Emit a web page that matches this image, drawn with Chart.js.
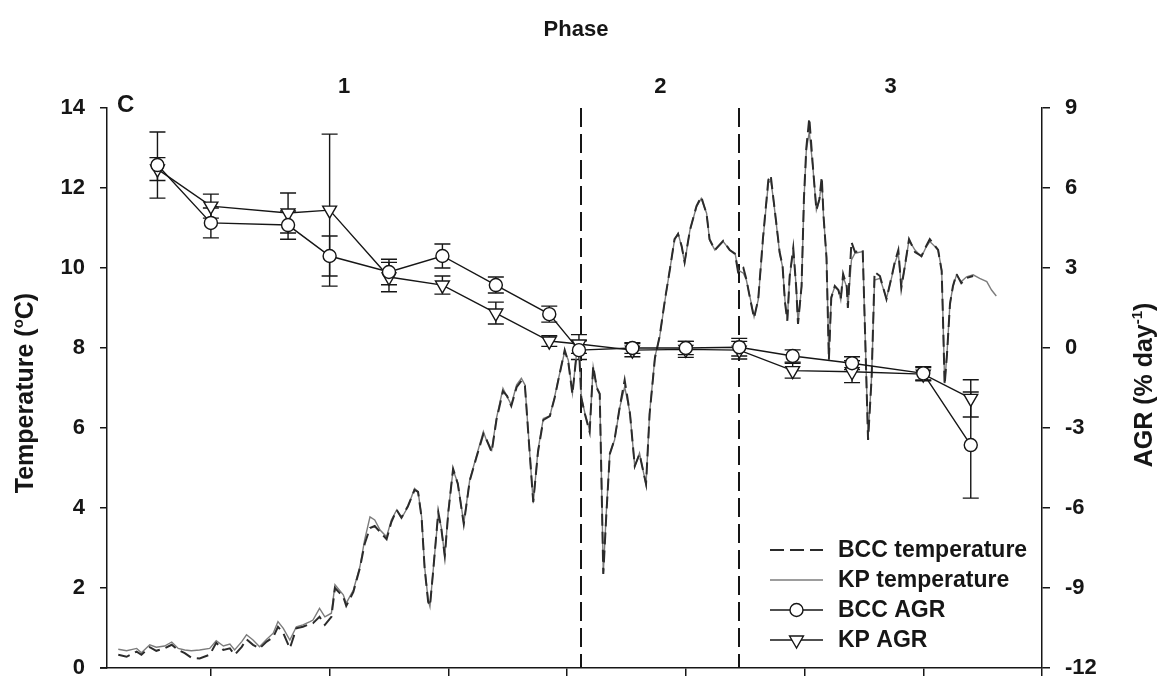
<!DOCTYPE html>
<html lang="en">
<head>
<meta charset="utf-8">
<title>Temperature and AGR by phase</title>
<script src="https://cdn.jsdelivr.net/npm/chart.js@4.4.1/dist/chart.umd.min.js"></script>
<style>
  html, body { margin: 0; padding: 0; background: #fff; }
  #wrap { position: relative; width: 1160px; height: 679px; }
</style>
</head>
<body>
<div id="wrap"><canvas id="agrChart"></canvas></div>
<script>
// Températures journalières (jour, °C) des deux sites
const tempDays = [
  4.4, 5.8, 7.5, 8.3, 9.7, 10.8, 12.2, 13.4, 14.5, 15.6,
  16.7, 18.1, 19.8, 20.9, 22.1, 23.2, 24.0, 25.2, 26.0, 27.1,
  28.2, 29.4, 30.5, 31.3, 32.2, 33.3, 34.4, 35.5, 36.7, 37.2,
  38.3, 39.2, 40.3, 40.9, 42.3, 42.8, 44.0, 45.1, 45.9, 46.8,
  47.6, 48.5, 49.6, 50.4, 51.3, 52.1, 53.2, 54.3, 54.9, 55.5,
  56.0, 56.6, 56.9, 57.4, 58.3, 58.8, 59.4, 60.0, 60.8, 61.6,
  62.6, 63.6, 64.7, 65.9, 66.4, 67.3, 68.1, 69.2, 69.9, 70.6,
  71.5, 72.3, 72.9, 73.4, 74.3, 75.1, 76.0, 77.1, 77.9, 78.5,
  79.6, 80.2, 80.9, 81.6, 82.0, 82.4, 83.0, 83.8, 84.4, 85.0,
  85.5, 85.8, 86.1, 86.6, 87.2, 88.0, 88.9, 89.7, 90.6, 91.4,
  92.2, 93.3, 93.9, 94.8, 95.6, 96.5, 97.3, 98.1, 98.7, 99.3,
  99.8, 100.7, 101.8, 102.6, 103.5, 104.0, 104.9, 106.3, 107.4, 108.3,
  108.8, 109.7, 110.2, 110.8, 111.5, 112.2, 113.0, 113.9, 114.3, 114.7,
  115.3, 115.8, 116.3, 116.7, 117.1, 117.5, 118.1, 118.6, 118.9, 119.5,
  119.9, 120.3, 120.8, 121.4, 122.0, 122.5, 122.9, 123.2, 123.7, 124.1,
  124.5, 125.1, 125.7, 126.1, 126.5, 127.1, 127.3, 127.9, 128.5, 129.8,
  130.2, 130.7, 131.3, 131.8, 132.7, 133.8, 134.7, 135.2, 135.8, 136.3,
  136.9, 137.6, 138.6, 139.7, 140.5, 141.1, 142.0, 142.5, 143.1, 143.3,
  143.6, 144.0, 144.5, 145.0, 145.6, 146.4, 147.3, 148.4, 149.5, 150.7,
  151.5, 152.3
];

const bccTemp = [
  0.33, 0.28, 0.41, 0.33, 0.52, 0.43, 0.49, 0.58, 0.45, 0.37,
  0.26, 0.24, 0.33, 0.63, 0.45, 0.49, 0.33, 0.53, 0.72, 0.58,
  0.49, 0.66, 0.77, 1.03, 0.87, 0.49, 0.99, 1.03, 1.10, 1.12,
  1.28, 1.08, 1.28, 2.00, 1.78, 1.55, 1.90, 2.50, 3.10, 3.50,
  3.55, 3.40, 3.22, 3.65, 3.95, 3.76, 4.05, 4.45, 4.40, 3.75,
  2.50, 1.65, 1.55, 2.35, 3.90, 3.50, 2.80, 3.90, 4.98, 4.60,
  3.60, 4.68, 5.25, 5.85, 5.72, 5.40, 6.20, 6.92, 6.80, 6.55,
  7.02, 7.18, 7.05, 6.00, 4.15, 5.40, 6.20, 6.30, 6.75, 7.18,
  7.95, 7.65, 6.85, 7.85, 8.00, 6.75, 6.35, 5.90, 7.55, 7.00,
  6.85, 4.65, 2.35, 3.80, 5.35, 5.72, 6.55, 7.20, 6.35, 5.05,
  5.35, 4.60, 6.35, 7.75, 8.30, 9.22, 9.95, 10.72, 10.85, 10.55,
  10.15, 10.95, 11.55, 11.78, 11.35, 10.72, 10.45, 10.68, 10.45, 10.35,
  9.90, 10.00, 9.72, 9.25, 8.75, 9.22, 10.75, 12.20, 12.32, 11.80,
  11.05, 10.40, 10.05, 9.15, 8.68, 9.80, 10.50, 9.50, 8.60, 9.55,
  11.75, 13.00, 13.75, 12.55, 11.45, 11.72, 12.28, 11.30, 10.25, 7.70,
  9.25, 9.55, 9.45, 9.22, 9.85, 9.55, 9.00, 10.65, 10.40, 10.45,
  8.35, 5.70, 7.25, 9.90, 9.80, 9.22, 9.80, 10.15, 10.45, 9.50,
  10.05, 10.72, 10.40, 10.30, 10.55, 10.72, 10.55, 10.45, 9.92, 8.85,
  7.08, 7.85, 9.10, 9.55, 9.85, 9.62, 9.75, 9.80, null, null,
  null, null
];

const kpTemp = [
  0.47, 0.43, 0.49, 0.38, 0.58, 0.52, 0.55, 0.65, 0.49, 0.45,
  0.43, 0.45, 0.49, 0.68, 0.55, 0.60, 0.45, 0.66, 0.83, 0.70,
  0.53, 0.72, 0.87, 1.16, 0.99, 0.70, 1.03, 1.08, 1.16, 1.20,
  1.49, 1.28, 1.37, 2.08, 1.83, 1.62, 1.95, 2.53, 3.20, 3.78,
  3.70, 3.45, 3.28, 3.70, 3.95, 3.74, 4.03, 4.49, 4.41, 3.78,
  2.53, 1.70, 1.53, 2.37, 3.83, 3.53, 2.78, 3.95, 4.95, 4.62,
  3.62, 4.70, 5.28, 5.91, 5.70, 5.45, 6.24, 6.99, 6.78, 6.58,
  7.08, 7.24, 7.08, 6.03, 4.12, 5.45, 6.24, 6.30, 6.78, 7.20,
  7.91, 7.70, 6.87, 7.87, 8.03, 6.78, 6.37, 5.95, 7.53, 7.03,
  6.87, 4.70, 2.37, 3.87, 5.37, 5.70, 6.53, 7.03, 6.37, 5.03,
  5.37, 4.58, 6.37, 7.78, 8.28, 9.20, 9.95, 10.70, 10.87, 10.53,
  10.12, 10.95, 11.53, 11.74, 11.37, 10.70, 10.45, 10.66, 10.45, 10.37,
  9.95, 9.87, 9.70, 9.28, 8.78, 9.20, 10.70, 12.12, 12.20, 11.78,
  11.03, 10.37, 10.03, 9.20, 8.70, 9.78, 10.45, 9.53, 8.62, 9.53,
  11.70, 12.95, 13.40, 12.53, 11.45, 11.70, 12.20, 11.28, 10.28, 7.75,
  9.28, 9.53, 9.45, 9.20, 9.78, 9.53, 9.03, 10.20, 10.37, 10.41,
  8.37, 5.76, 7.30, 9.70, 9.74, 9.24, 9.78, 10.12, 10.37, 9.53,
  10.03, 10.70, 10.45, 10.28, 10.53, 10.66, 10.53, 10.45, 9.95, 8.87,
  7.12, 7.87, 9.12, 9.53, 9.83, 9.66, 9.78, 9.83, 9.74, 9.66,
  9.45, 9.30
];

// Taux de croissance (AGR, % jour-1) avec écarts
const agrDays = [11, 20, 33, 40, 50, 59, 68, 77, 82, 91, 100, 109, 118, 128, 140, 148];
const bccAgr = [6.86, 4.69, 4.61, 3.45, 2.85, 3.45, 2.36, 1.27, -0.08, 0.0, 0.0, 0.03, -0.30, -0.57, -0.95, -3.64];
const bccAgrErr = [1.24, 0.56, 0.53, 0.75, 0.48, 0.45, 0.30, 0.30, 0.35, 0.20, 0.25, 0.33, 0.23, 0.24, 0.25, 1.99];
const kpAgr = [6.71, 5.32, 5.06, 5.17, 2.66, 2.36, 1.31, 0.26, 0.15, -0.08, -0.05, -0.08, -0.85, -0.89, -0.98, -1.89];
const kpAgrErr = [0.43, 0.45, 0.75, 2.85, 0.55, 0.34, 0.41, 0.20, 0.35, 0.25, 0.30, 0.33, 0.28, 0.41, 0.25, 0.70];

// Phases et graduations
const phaseBounds = [2.5, 82.4, 109, 160];
const phaseLabels = ['1', '2', '3'];
const xTickValues = [20, 40, 60, 80, 100, 120, 140, 160];
const legendLabels = ['BCC temperature', 'KP temperature', 'BCC AGR', 'KP AGR'];

const FONT = '"Liberation Sans", Arial, Helvetica, sans-serif';
const INK = '#161616';
const KP_GREY = '#7c7c7c';

function toPoints(xs, ys) {
    return xs.map((x, i) => ({ x: x, y: ys[i] }));
}

// Texte avec exposant, centré sur (x, y) ligne de base
function drawRichText(ctx, parts, x, y, size) {
    const widths = parts.map(p => {
        ctx.font = `bold ${p.sup ? Math.round(size * 0.6) : size}px ${FONT}`;
        return ctx.measureText(p.text).width;
    });
    let cx = x - widths.reduce((a, b) => a + b, 0) / 2;
    parts.forEach((p, i) => {
        ctx.font = `bold ${p.sup ? Math.round(size * 0.6) : size}px ${FONT}`;
        ctx.fillText(p.text, cx, p.sup ? y - size * 0.42 : y);
        cx += widths[i];
    });
}

// Largeurs fixes des axes, sans marge de débordement des étiquettes
function fixWidth(w) {
    return s => {
        s.width = w;
        s.paddingTop = 0;
        s.paddingBottom = 0;
    };
}

const overlayPlugin = {
    id: 'overlay',
    beforeDatasetsDraw(chart) {
        const { ctx, chartArea, scales } = chart;
        ctx.save();
        // Séparateurs de phase
        ctx.strokeStyle = INK;
        ctx.lineWidth = 2;
        ctx.setLineDash([19, 7]);
        phaseBounds.slice(1, -1).forEach(v => {
            const x = Math.round(scales.x.getPixelForValue(v));
            ctx.beginPath();
            ctx.moveTo(x, chartArea.top);
            ctx.lineTo(x, chartArea.bottom);
            ctx.stroke();
        });
        ctx.setLineDash([]);

        // Barres d'erreur AGR
        ctx.lineWidth = 1.4;
        [[bccAgr, bccAgrErr], [kpAgr, kpAgrErr]].forEach(([vals, errs]) => {
            vals.forEach((v, i) => {
                const x = scales.x.getPixelForValue(agrDays[i]);
                const yTop = scales.y2.getPixelForValue(v + errs[i]);
                const yBot = scales.y2.getPixelForValue(v - errs[i]);
                ctx.beginPath();
                ctx.moveTo(x, yTop); ctx.lineTo(x, yBot);
                ctx.moveTo(x - 8, yTop); ctx.lineTo(x + 8, yTop);
                ctx.moveTo(x - 8, yBot); ctx.lineTo(x + 8, yBot);
                ctx.stroke();
            });
        });
        ctx.restore();
    },
    afterDraw(chart) {
        const { ctx, chartArea, scales } = chart;
        ctx.save();

        // Axe des x prolongé un peu à gauche de l'axe des y
        ctx.strokeStyle = INK;
        ctx.lineWidth = 1.5;
        ctx.beginPath();
        ctx.moveTo(chartArea.left - 7, chartArea.bottom);
        ctx.lineTo(chartArea.left, chartArea.bottom);
        ctx.stroke();

        ctx.fillStyle = INK;
        ctx.textBaseline = 'alphabetic';

        // Titre et numéros de phase
        ctx.textAlign = 'center';
        ctx.font = `bold 22px ${FONT}`;
        ctx.fillText('Phase', 576, 36);
        phaseLabels.forEach((label, i) => {
            const mid = (phaseBounds[i] + phaseBounds[i + 1]) / 2;
            ctx.fillText(label, scales.x.getPixelForValue(mid), 93);
        });
        ctx.textAlign = 'left';
        ctx.font = `bold 24px ${FONT}`;
        ctx.fillText('C', 117, 112);

        // Titres des axes (lecture de bas en haut)
        ctx.save();
        ctx.translate(33, 393);
        ctx.rotate(-Math.PI / 2);
        drawRichText(ctx, [{ text: 'Temperature (' }, { text: 'o', sup: true }, { text: 'C)' }], 0, 0, 25);
        ctx.restore();
        ctx.save();
        ctx.translate(1152, 385);
        ctx.rotate(-Math.PI / 2);
        drawRichText(ctx, [{ text: 'AGR (% day' }, { text: '-1', sup: true }, { text: ')' }], 0, 0, 25);
        ctx.restore();

        // Légende
        const x0 = 770, x1 = 823, rows = [550, 580, 610, 640];
        rows.forEach((y, i) => {
            ctx.beginPath();
            if (i === 0) {
                ctx.strokeStyle = '#2b2b2b';
                ctx.lineWidth = 2;
                ctx.setLineDash([14, 6]);
            } else if (i === 1) {
                ctx.strokeStyle = KP_GREY;
                ctx.lineWidth = 1.4;
            } else {
                ctx.strokeStyle = INK;
                ctx.lineWidth = 1.4;
            }
            ctx.moveTo(x0, y);
            ctx.lineTo(x1, y);
            ctx.stroke();
            ctx.setLineDash([]);
            if (i >= 2) {
                ctx.fillStyle = '#fff';
                ctx.strokeStyle = INK;
                ctx.lineWidth = 1.4;
                Chart.helpers.drawPoint(ctx, {
                    pointStyle: i === 2 ? 'circle' : 'triangle',
                    radius: i === 2 ? 6.5 : 8,
                    rotation: i === 2 ? 0 : 180,
                    borderWidth: 1.4
                }, (x0 + x1) / 2, y);
            }
            ctx.fillStyle = INK;
            ctx.font = `bold 23px ${FONT}`;
            ctx.textBaseline = 'middle';
            ctx.fillText(legendLabels[i], 838, y + 1);
        });
        ctx.restore();
    }
};

const axisGrid = { display: true, drawOnChartArea: false, drawTicks: true, color: INK, lineWidth: 1.5 };
const axisBorder = { display: true, color: INK, width: 1.5 };
const tickFont = { family: FONT, size: 22, weight: 'bold' };

new Chart(document.getElementById('agrChart').getContext('2d'), {
    type: 'line',
    data: {
        datasets: [
            {
                label: legendLabels[2],
                data: toPoints(agrDays, bccAgr),
                yAxisID: 'y2',
                borderColor: INK,
                borderWidth: 1.4,
                pointStyle: 'circle',
                pointRadius: 6.5,
                pointBackgroundColor: '#fff',
                pointBorderColor: INK,
                pointBorderWidth: 1.4,
                order: 0
            },
            {
                label: legendLabels[3],
                data: toPoints(agrDays, kpAgr),
                yAxisID: 'y2',
                borderColor: INK,
                borderWidth: 1.4,
                pointStyle: 'triangle',
                pointRotation: 180,
                pointRadius: 8,
                pointBackgroundColor: '#fff',
                pointBorderColor: INK,
                pointBorderWidth: 1.4,
                order: 1
            },
            {
                label: legendLabels[0],
                data: toPoints(tempDays, bccTemp),
                yAxisID: 'y',
                borderColor: '#2b2b2b',
                borderWidth: 2,
                borderDash: [12, 6],
                pointRadius: 0,
                order: 2
            },
            {
                label: legendLabels[1],
                data: toPoints(tempDays, kpTemp),
                yAxisID: 'y',
                borderColor: KP_GREY,
                borderWidth: 1.4,
                pointRadius: 0,
                order: 3
            }
        ]
    },
    options: {
        responsive: true,
        maintainAspectRatio: false,
        animation: false,
        layout: { padding: { top: 108, left: 0, right: 0, bottom: 0 } },
        plugins: {
            legend: { display: false },
            tooltip: { enabled: false }
        },
        scales: {
            x: {
                type: 'linear',
                min: phaseBounds[0],
                max: phaseBounds[phaseBounds.length - 1],
                afterBuildTicks: s => { s.ticks = xTickValues.map(v => ({ value: v })); },
                afterFit: s => {
                    s.height = 11;
                    s.paddingLeft = 0;
                    s.paddingRight = 0;
                },
                grid: Object.assign({ tickLength: 8 }, axisGrid),
                border: axisBorder,
                ticks: { display: false }
            },
            y: {
                position: 'left',
                min: 0,
                max: 14,
                afterFit: fixWidth(107),
                grid: Object.assign({ tickLength: 7 }, axisGrid),
                border: axisBorder,
                ticks: { stepSize: 2, padding: 15, color: INK, font: tickFont }
            },
            y2: {
                position: 'right',
                min: -12,
                max: 9,
                afterFit: fixWidth(118),
                grid: Object.assign({ tickLength: 8 }, axisGrid),
                border: axisBorder,
                ticks: { stepSize: 3, padding: 15, color: INK, font: tickFont }
            }
        }
    },
    plugins: [overlayPlugin]
});
</script>
</body>
</html>
